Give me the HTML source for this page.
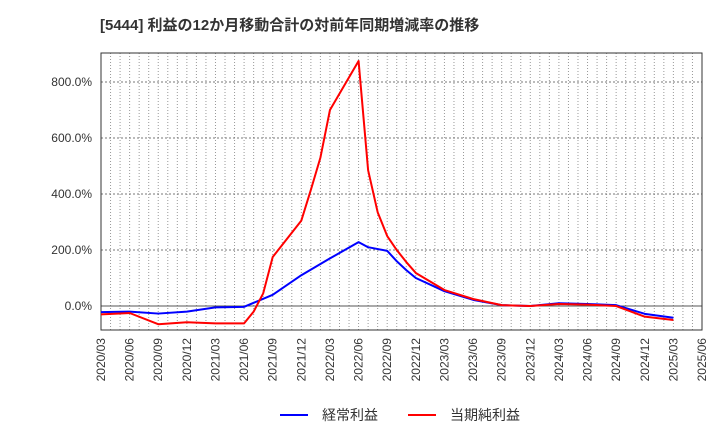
<!DOCTYPE html>
<html><head><meta charset="utf-8"><style>
body{margin:0;background:#fff;font-family:"Liberation Sans","Noto Sans CJK JP",sans-serif;}
svg text{font-family:"Liberation Sans","Noto Sans CJK JP",sans-serif;}
</style></head><body>
<svg id="c" width="720" height="440" xmlns="http://www.w3.org/2000/svg">
<text x="100" y="30" font-size="15" font-weight="bold" fill="#333">[5444]  利益の12か月移動合計の対前年同期増減率の推移</text>
<g id="grid"></g><g id="axes"></g><g id="series"></g>
<g>
<line x1="280" y1="415" x2="308" y2="415" stroke="#0000ff" stroke-width="2"/>
<text x="322" y="420" font-size="14" fill="#333">経常利益</text>
<line x1="408" y1="415" x2="436" y2="415" stroke="#ff0000" stroke-width="2"/>
<text x="450" y="420" font-size="14" fill="#333">当期純利益</text>
</g>
</svg>
<script>
const xTickLabels=["2020/03","2020/06","2020/09","2020/12","2021/03","2021/06","2021/09","2021/12","2022/03","2022/06","2022/09","2022/12","2023/03","2023/06","2023/09","2023/12","2024/03","2024/06","2024/09","2024/12","2025/03","2025/06"];
const yTicks=[0,200,400,600,800];
const blueMonths=[0,3,6,9,12,15,18,21,24,27,28,30,31,32,33,36,39,42,45,48,51,54,57,60];
const blueValues=[-22,-20,-27,-20,-5,-3,40,110,170,228,210,197,160,128,100,53,22,3,0,10,7,3,-28,-42];
const redMonths=[0,3,6,9,12,15,16,17,18,21,22,23,24,27,28,29,30,31,32,33,36,39,42,45,48,51,54,57,60];
const redValues=[-30,-25,-65,-58,-62,-62,-20,45,175,305,415,530,700,875,485,335,250,200,157,118,57,25,3,0,7,5,0,-38,-50];
const L=101,R=702,T=53,B=330,yMin=-85.7,yMax=903.6,nMonths=63;
const X=m=>L+(R-L)*m/nMonths, Y=v=>B-(v-yMin)/(yMax-yMin)*(B-T);
const NS="http://www.w3.org/2000/svg";
function mk(t,a,p){const e=document.createElementNS(NS,t);for(const k in a)e.setAttribute(k,a[k]);p.appendChild(e);return e;}
const grid=document.getElementById('grid'),axes=document.getElementById('axes'),ser=document.getElementById('series');
for(let m=1;m<nMonths;m++){const l=mk('line',{x1:X(m),x2:X(m),y1:T,y2:B,stroke:'#999','stroke-dasharray':'1,2','stroke-width':1},grid);

}
yTicks.forEach(v=>{const l=mk('line',{x1:L,x2:R,y1:Y(v),y2:Y(v),stroke:v===0?'#555':'#777','stroke-dasharray':v===0?'':'2,2'},grid);


const t=mk('text',{x:92,y:Y(v)+4,'text-anchor':'end','font-size':12,fill:'#333'},axes);t.textContent=v.toFixed(1)+'%';

});
const fr=mk('rect',{x:L,y:T,width:R-L,height:B-T,fill:'none',stroke:'#333'},axes);


xTickLabels.forEach((s,i)=>{const x=X(i*3);const t=mk('text',{x:0,y:0,transform:`translate(${x+4},338) rotate(-90)`,'text-anchor':'end','font-size':12,fill:'#333'},axes);t.textContent=s;

});
function line(ms,vs,c,n){const p=mk('polyline',{points:ms.map((m,i)=>X(m)+','+Y(vs[i])).join(' '),fill:'none',stroke:c,'stroke-width':2,'stroke-linejoin':'round'},ser);

}
line(blueMonths,blueValues,'#0000ff','series-ordinary-profit');
line(redMonths,redValues,'#ff0000','series-net-profit');
</script>
</body></html>
